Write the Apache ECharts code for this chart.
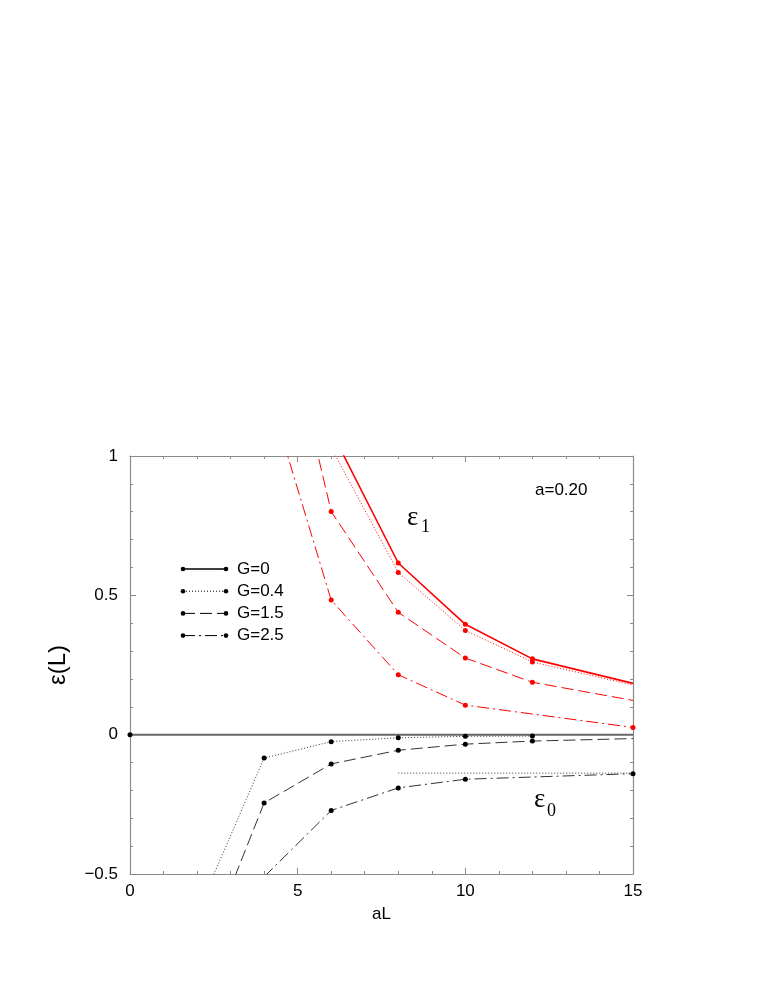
<!DOCTYPE html>
<html>
<head>
<meta charset="utf-8">
<script src="https://cdn.jsdelivr.net/npm/echarts@6/dist/echarts.min.js"></script>
<style>
  html, body { margin: 0; padding: 0; background: #fff; }
  #chart { width: 763px; height: 987px; }
</style>
</head>
<body>
<div id="chart"></div>
<script>
// epsilon_1 (red), values
const L_E1_G0 = [6, 8, 10, 12, 15];
const E1_G0 = [1.09, 0.616, 0.396, 0.272, 0.184];
const L_E1_G04 = [6, 8, 10, 12, 15];
const E1_G04 = [1.03, 0.582, 0.374, 0.261, 0.178];
const L_E1_G15 = [4, 6, 8, 10, 12, 15];
const E1_G15 = [1.82, 0.801, 0.439, 0.275, 0.188, 0.123];
const L_E1_G25 = [4, 6, 8, 10, 15];
const E1_G25 = [1.28, 0.483, 0.215, 0.106, 0.026];

// epsilon_0 (black)
const L_E0_G0 = [0, 15];
const E0_G0 = [0, 0];
const L_E0_G04 = [2, 4, 6, 8, 10, 12];
const E0_G04 = [-0.64, -0.084, -0.025, -0.011, -0.006, -0.005];
const L_E0_G15 = [2, 4, 6, 8, 10, 12, 15];
const E0_G15 = [-0.85, -0.245, -0.105, -0.056, -0.034, -0.023, -0.014];
const L_E0_G25 = [4, 6, 8, 10, 15];
const E0_G25 = [-0.51, -0.272, -0.191, -0.160, -0.140];
const L_ASYM = [8, 15];
const E0_ASYM = [-0.138, -0.138];

const legendNames = ['G=0', 'G=0.4', 'G=1.5', 'G=2.5'];

const FONT = '"Liberation Sans", Arial, sans-serif';
const SERIF = '"Liberation Serif", "Times New Roman", serif';
const DOT = [1, 2];
const DASH = [12, 5];
const DASHDOT = [12, 4, 2, 4];

// bareLast: no symbol on the last point (line just runs off to the frame)
const pts = (xs, ys, bareLast) => xs.map((x, i) => {
    const p = { value: [x, ys[i]] };
    if (bareLast && i === xs.length - 1) p.symbol = 'none';
    return p;
});

const mkLine = (xs, ys, color, width, dash, bareLast, showSym = true) => ({
    type: 'line',
    data: pts(xs, ys, bareLast),
    clip: true,
    symbol: showSym ? 'circle' : 'none',
    symbolSize: 5,
    itemStyle: { color: color === RED ? RED : '#000' },
    lineStyle: { color: color, width: width, type: dash },
    z: 3
});

const RED = '#ff0000';
const BLK = '#333333';

const legendRows = [
    { dash: 'solid', width: 1.5 },
    { dash: DOT, width: 1 },
    { dash: DASH, width: 1 },
    { dash: DASHDOT, width: 1 }
];

const legendGraphic = [];
legendRows.forEach((r, i) => {
    const y = 569 + i * 22.2;
    legendGraphic.push({
        type: 'line',
        shape: { x1: 183, y1: y, x2: 226, y2: y },
        style: { stroke: '#000', lineWidth: r.width, lineDash: r.dash === 'solid' ? null : r.dash }
    });
    legendGraphic.push({ type: 'circle', shape: { cx: 183, cy: y, r: 2.3 }, style: { fill: '#000' } });
    legendGraphic.push({ type: 'circle', shape: { cx: 226, cy: y, r: 2.3 }, style: { fill: '#000' } });
    legendGraphic.push({
        type: 'text', x: 237, y: y,
        style: { text: legendNames[i], font: '17px ' + FONT, fill: '#000', textVerticalAlign: 'middle' }
    });
});

const axisGray = '#8a8a8a';
const tickCommon = () => ({
    axisLine: { show: true, onZero: false, lineStyle: { color: axisGray, width: 1.2 } },
    axisTick: { show: true, inside: true, length: 6, lineStyle: { color: axisGray } },
    minorTick: { show: true, splitNumber: 5, length: 3, lineStyle: { color: axisGray } },
    splitLine: { show: false },
    minorSplitLine: { show: false }
});

let option = {
    animation: false,
    backgroundColor: '#fff',
    grid: { left: 130, top: 456, width: 503, height: 418 },
    xAxis: [
        Object.assign({
            type: 'value', min: 0, max: 15, interval: 5, position: 'bottom',
            name: 'aL', nameLocation: 'middle', nameGap: 32,
            nameTextStyle: { fontFamily: FONT, fontSize: 17, color: '#000' },
            axisLabel: { fontFamily: FONT, fontSize: 17, color: '#000', margin: 9 }
        }, tickCommon()),
        Object.assign({
            type: 'value', min: 0, max: 15, interval: 5, position: 'top',
            axisLabel: { show: false }
        }, tickCommon())
    ],
    yAxis: [
        Object.assign({
            type: 'value', min: -0.5, max: 1, interval: 0.5, position: 'left',
            name: 'ε(L)', nameLocation: 'middle', nameGap: 60,
            nameTextStyle: { fontFamily: FONT, fontSize: 24, color: '#000' },
            axisLabel: {
                fontFamily: FONT, fontSize: 17, color: '#000', margin: 12,
                formatter: v => String(v).replace('-', '\u2212')
            }
        }, tickCommon()),
        Object.assign({
            type: 'value', min: -0.5, max: 1, interval: 0.5, position: 'right',
            axisLabel: { show: false }
        }, tickCommon())
    ],
    graphic: legendGraphic.concat([
        { type: 'text', x: 535, y: 490, style: { text: 'a=0.20', font: '17px ' + FONT, fill: '#000', textVerticalAlign: 'middle' } },
        { type: 'text', x: 407, y: 518, style: { text: 'ε', font: '27px ' + SERIF, fill: '#000', textVerticalAlign: 'middle' } },
        { type: 'text', x: 421, y: 527, style: { text: '1', font: '18px ' + SERIF, fill: '#000', textVerticalAlign: 'middle' } },
        { type: 'text', x: 534, y: 800, style: { text: 'ε', font: '27px ' + SERIF, fill: '#000', textVerticalAlign: 'middle' } },
        { type: 'text', x: 547, y: 811, style: { text: '0', font: '18px ' + SERIF, fill: '#000', textVerticalAlign: 'middle' } }
    ]),
    series: [
        Object.assign(mkLine(L_E0_G0, E0_G0, '#666', 2, 'solid', true), { z: 2 }),
        mkLine(L_E1_G0, E1_G0, RED, 1.6, 'solid', true),
        mkLine(L_E1_G04, E1_G04, RED, 1, DOT, true),
        mkLine(L_E1_G15, E1_G15, RED, 1, DASH, true),
        mkLine(L_E1_G25, E1_G25, RED, 1, DASHDOT, false),
        mkLine(L_E0_G04, E0_G04, BLK, 1, DOT, false),
        mkLine(L_E0_G15, E0_G15, BLK, 1, DASH, true),
        mkLine(L_E0_G25, E0_G25, BLK, 1, DASHDOT, false),
        mkLine(L_ASYM, E0_ASYM, BLK, 1, DOT, false, false)
    ]
};

const chartInit = () => {
    let myChart = echarts.init(document.getElementById('chart'), null, { renderer: 'canvas' });
    option && myChart.setOption(option);
}

chartInit();
</script>
</body>
</html>
